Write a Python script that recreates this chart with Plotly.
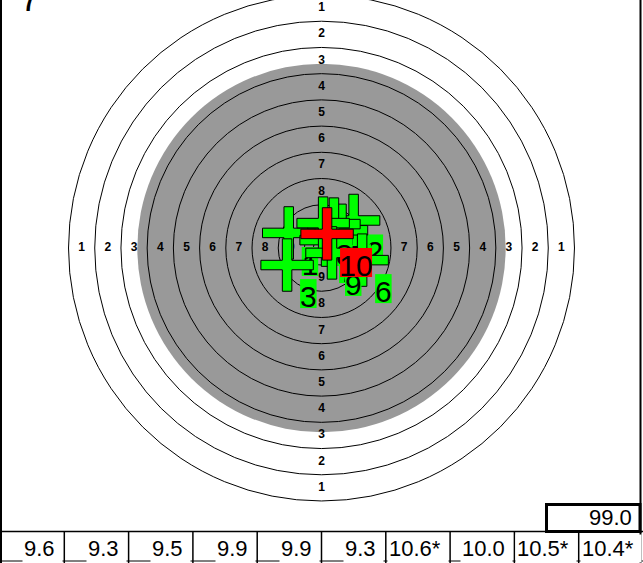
import plotly.graph_objects as go

# ---------------- data ----------------
shot_numbers = [1, 2, 3, 4, 5, 6, 7, 8, 9, 10]
shot_x_mm = [-10.0, 9.8, -10.5, 6.1, 3.8, 12.4, 1.4, 0.5, 3.2, 1.7]
shot_y_mm = [4.6, 8.4, -5.2, 5.4, 7.3, -3.7, 2.4, 7.6, -1.5, 4.3]
shot_scores = ["9.6", "9.3", "9.5", "9.9", "9.9", "9.3", "10.6*", "10.0", "10.5*", "10.4*"]
total_score = "99.0"
series_label = "7"

ring_values = [1, 2, 3, 4, 5, 6, 7, 8, 9, 10]
ring_radius_mm = [77.2, 69.2, 61.2, 53.2, 45.2, 37.2, 29.2, 21.2, 13.2, 5.2]
inner_ten_radius_mm = 2.5
black_radius_mm = 56.2
ring_label_values = [1, 2, 3, 4, 5, 6, 7, 8, 9]

# ---------------- geometry / style ----------------
W, H = 643, 563
PX_PER_MM = 3.277
CX, CY = 321.5, 248.0
x_range = [-CX / PX_PER_MM, (W - CX) / PX_PER_MM]
y_range = [-(H - CY) / PX_PER_MM, CY / PX_PER_MM]

GRAY = "#999999"
GREEN = "#00ff00"
RED = "#ff0000"
FONT = "Liberation Sans, Arial, sans-serif"

CROSS_HALF_LEN = 8.0   # mm
CROSS_HALF_W = 1.45    # mm
LABEL_DX = 13 / PX_PER_MM
LABEL_DY = 14 / PX_PER_MM
LABEL_H = 29 / PX_PER_MM
DIGIT_W = 15.5 / PX_PER_MM


def px(xp):
    return xp / W


def py(yp):
    return 1 - yp / H


shapes = []
annotations = []

# target: black (gray) aiming area, then ring lines
shapes.append(dict(type="circle", xref="x", yref="y", layer="below",
                   x0=-black_radius_mm, x1=black_radius_mm,
                   y0=-black_radius_mm, y1=black_radius_mm,
                   fillcolor=GRAY, line=dict(width=0)))
for r in ring_radius_mm + [inner_ten_radius_mm]:
    shapes.append(dict(type="circle", xref="x", yref="y", layer="below",
                       x0=-r, x1=r, y0=-r, y1=r,
                       fillcolor="rgba(0,0,0,0)", line=dict(color="black", width=1)))

# ring numbers
lab_x, lab_y, lab_t = [], [], []
for k in ring_label_values:
    rmid = (ring_radius_mm[k - 1] + ring_radius_mm[k]) / 2
    for dx, dy in [(-1, 0), (1, 0), (0, 1), (0, -1)]:
        lab_x.append(dx * rmid)
        lab_y.append(dy * rmid)
        lab_t.append(str(k))


def cross_path(x, y, L, w):
    pts = [(x - w, y + L), (x + w, y + L), (x + w, y + w), (x + L, y + w),
           (x + L, y - w), (x + w, y - w), (x + w, y - L), (x - w, y - L),
           (x - w, y - w), (x - L, y - w), (x - L, y + w), (x - w, y + w)]
    return "M " + " L ".join(f"{a:.3f},{b:.3f}" for a, b in pts) + " Z"


# shots: cross then number box, in shooting order
for i, (n, sx, sy) in enumerate(zip(shot_numbers, shot_x_mm, shot_y_mm)):
    col = RED if i == len(shot_numbers) - 1 else GREEN
    shapes.append(dict(type="path", xref="x", yref="y", layer="above",
                       path=cross_path(sx, sy, CROSS_HALF_LEN, CROSS_HALF_W),
                       fillcolor=col, line=dict(color="black", width=1)))
    txt = str(n)
    x0 = sx + LABEL_DX
    y1 = sy - LABEL_DY
    shapes.append(dict(type="rect", xref="x", yref="y", layer="above",
                       x0=x0, x1=x0 + DIGIT_W * len(txt) + 0.3,
                       y0=y1 - LABEL_H, y1=y1,
                       fillcolor=col, line=dict(width=0),
                       label=dict(text=txt, textposition="middle center",
                                  font=dict(family=FONT, size=30, color="black"))))

# frame
shapes.append(dict(type="line", xref="paper", yref="paper", layer="above",
                   x0=px(1), x1=px(1), y0=py(0), y1=py(H),
                   line=dict(color="black", width=2)))
shapes.append(dict(type="line", xref="paper", yref="paper", layer="above",
                   x0=px(640.5), x1=px(640.5), y0=py(0), y1=py(H),
                   line=dict(color="black", width=2)))

# score table
ROW_TOP = 531.5
cell_w = W / len(shot_scores)
shapes.append(dict(type="line", xref="paper", yref="paper", layer="above",
                   x0=0, x1=1, y0=py(ROW_TOP), y1=py(ROW_TOP),
                   line=dict(color="black", width=1.5)))
shapes.append(dict(type="line", xref="paper", yref="paper", layer="above",
                   x0=0, x1=1, y0=py(561), y1=py(561),
                   line=dict(color="black", width=1)))
for i in range(1, len(shot_scores)):
    xe = i * cell_w
    shapes.append(dict(type="line", xref="paper", yref="paper", layer="above",
                       x0=px(xe), x1=px(xe), y0=py(ROW_TOP), y1=py(H),
                       line=dict(color="black", width=1.5)))
for i, s in enumerate(shot_scores):
    xr = (i + 1) * cell_w - 1.5
    annotations.append(dict(xref="paper", yref="paper", x=px(xr), y=py(548),
                            xanchor="right", yanchor="middle", showarrow=False,
                            text=s + "\u00a0", bgcolor="white", borderpad=1,
                            font=dict(family=FONT, size=22, color="black")))

# total box
shapes.append(dict(type="rect", xref="paper", yref="paper", layer="above",
                   x0=px(546.5), x1=px(640), y0=py(ROW_TOP), y1=py(504.5),
                   line=dict(color="black", width=3)))
annotations.append(dict(xref="paper", yref="paper", x=px(633.5), y=py(517),
                        xanchor="right", yanchor="middle", showarrow=False,
                        text=total_score,
                        font=dict(family=FONT, size=22, color="black")))

# series number (partly cut off at top, as in the reference)
annotations.append(dict(xref="paper", yref="paper", x=px(30), y=py(21),
                        xanchor="center", yanchor="bottom", showarrow=False,
                        text=series_label,
                        font=dict(family=FONT, size=36, color="black")))

fig = go.Figure()
fig.add_trace(go.Scatter(x=lab_x, y=lab_y, text=lab_t, mode="text",
                         textposition="middle center", hoverinfo="skip",
                         textfont=dict(family=FONT, size=12, color="black", weight="bold"),
                         showlegend=False))
fig.add_trace(go.Scatter(x=shot_x_mm, y=shot_y_mm, mode="markers",
                         marker=dict(size=10, opacity=0),
                         text=[f"Shot {n}: {s}" for n, s in zip(shot_numbers, shot_scores)],
                         hoverinfo="text", showlegend=False))

fig.update_layout(
    width=W, height=H,
    margin=dict(l=0, r=0, t=0, b=0, pad=0),
    paper_bgcolor="white", plot_bgcolor="white",
    xaxis=dict(range=x_range, visible=False, fixedrange=True),
    yaxis=dict(range=y_range, visible=False, fixedrange=True),
    shapes=shapes, annotations=annotations,
    showlegend=False,
)

fig.write_html("out.html", config={"displayModeBar": False},
               post_script="document.body.style.margin='0';document.body.style.overflow='hidden';")
